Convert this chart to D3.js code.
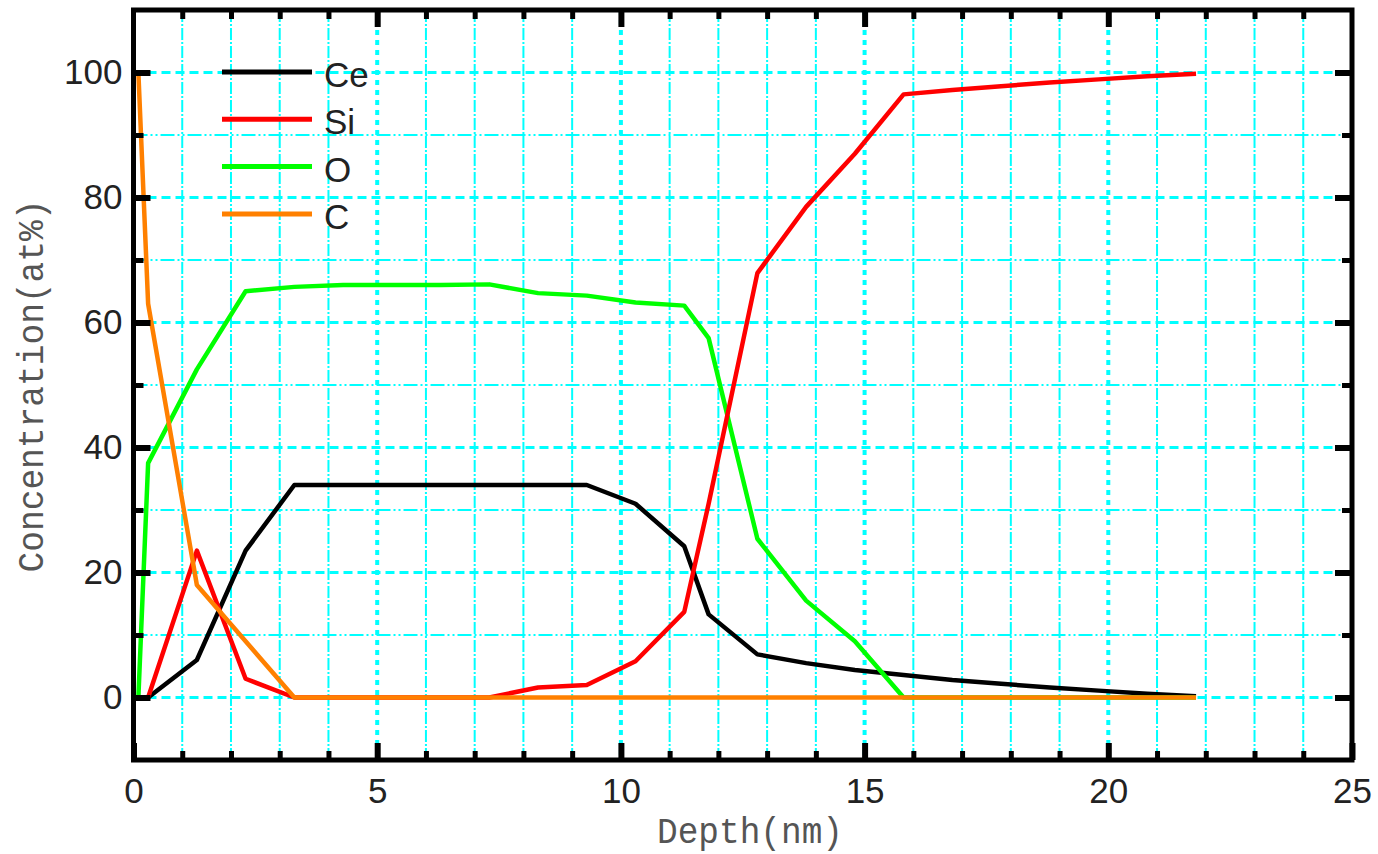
<!DOCTYPE html>
<html>
<head>
<meta charset="utf-8">
<script src="https://cdn.jsdelivr.net/npm/d3@7"></script>
<style>
  html, body { margin: 0; padding: 0; background: #ffffff; }
  svg { display: block; }
</style>
</head>
<body>
<svg id="chart" width="1378" height="854"></svg>
<script>
// Depth profile sample points (nm)
const depth = [0.1, 0.3, 1.3, 2.3, 3.3, 4.3, 5.3, 6.3, 7.3, 8.3, 9.3, 10.3, 11.3, 11.8, 12.8, 13.8, 14.8, 15.8, 16.8, 17.8, 18.8, 19.8, 20.8, 21.8];

// Concentrations (at%) per element at each depth
const ceValues = [0, 0, 6, 23.5, 34, 34, 34, 34, 34, 34, 34, 31, 24.2, 13.3, 6.9, 5.5, 4.4, 3.6, 2.8, 2.2, 1.6, 1.1, 0.6, 0.2];
const siValues = [0, 0, 23.5, 3, 0, 0, 0, 0, 0, 1.6, 2, 5.8, 13.7, 31, 67.9, 78.5, 87, 96.5, 97.2, 97.8, 98.4, 98.9, 99.4, 99.8];
const oValues  = [0, 37.5, 52.5, 65, 65.7, 66, 66, 66, 66.1, 64.7, 64.3, 63.2, 62.7, 57.5, 25.4, 15.5, 9, 0, 0, 0, 0, 0, 0, 0];
const cValues  = [100, 63, 18, 9, 0, 0, 0, 0, 0, 0, 0, 0, 0, 0, 0, 0, 0, 0, 0, 0, 0, 0, 0, 0];

const seriesNames  = ["Ce", "Si", "O", "C"];
const seriesColors = ["#000000", "#ff0000", "#00ff00", "#ff8000"];

// Axis tick values
const xMajorTicks = [0, 5, 10, 15, 20, 25];
const yMajorTicks = [0, 20, 40, 60, 80, 100];

const xTitle = "Depth(nm)";
const yTitle = "Concentration(at%)";

const svg = d3.select("#chart");
const L = 133.5, R = 1352, T = 10, B = 760;

const x = d3.scaleLinear().domain([0, 25]).range([L, R]);
const y = d3.scaleLinear().domain([-10, 110]).range([B, T]);

const gridColor = "#00ffff";
const xMinor = d3.range(1, 25).filter(v => v % 5 !== 0);
const xMajorInner = [5, 10, 15, 20];
const yMinor = [10, 30, 50, 70, 90];

// Grid
const grid = svg.append("g");
grid.selectAll(".vminor").data(xMinor).join("line")
  .attr("x1", d => x(d)).attr("x2", d => x(d)).attr("y1", T).attr("y2", B)
  .attr("stroke", gridColor).attr("stroke-width", 2).attr("stroke-dasharray", "12,2,2,2");
grid.selectAll(".vmajor").data(xMajorInner).join("line")
  .attr("x1", d => x(d)).attr("x2", d => x(d)).attr("y1", T).attr("y2", B)
  .attr("stroke", gridColor).attr("stroke-width", 4).attr("stroke-dasharray", "5,5");
grid.selectAll(".hminor").data(yMinor).join("line")
  .attr("x1", L).attr("x2", R).attr("y1", d => y(d)).attr("y2", d => y(d))
  .attr("stroke", gridColor).attr("stroke-width", 2).attr("stroke-dasharray", "14,3,2,3,2,3");
grid.selectAll(".hmajor").data(yMajorTicks).join("line")
  .attr("x1", L).attr("x2", R).attr("y1", d => y(d)).attr("y2", d => y(d))
  .attr("stroke", gridColor).attr("stroke-width", 3).attr("stroke-dasharray", "9,5");

// Series lines
const series = [ceValues, siValues, oValues, cValues].map((vals, i) => ({
  name: seriesNames[i], color: seriesColors[i],
  points: depth.map((d, j) => [d, vals[j]])
}));
const line = d3.line().x(d => x(d[0])).y(d => y(d[1]));
const drawOrder = [0, 2, 1, 3];
svg.append("g").selectAll("path").data(drawOrder.map(i => series[i])).join("path")
  .attr("d", d => line(d.points))
  .attr("fill", "none")
  .attr("stroke", d => d.color)
  .attr("stroke-width", 4.5)
  .attr("stroke-linejoin", "round");

// Axes with inward ticks
function styleAxis(g, width) {
  g.select(".domain").remove();
  g.selectAll(".tick line").attr("stroke", "#000").attr("stroke-width", width);
  g.selectAll(".tick text")
    .attr("fill", "#222")
    .style("font-family", "'Liberation Sans', Arial, sans-serif")
    .style("font-size", "35px");
}
const xMinorTickVals = d3.range(1, 25).filter(v => v % 5 !== 0);
const yMinorTickVals = [10, 30, 50, 70, 90];

svg.append("g").attr("transform", `translate(0,${B})`)
  .call(d3.axisBottom(x).tickValues(xMajorTicks).tickSize(-17).tickPadding(18).tickFormat(d3.format("d")))
  .call(g => styleAxis(g, 6));
svg.append("g").attr("transform", `translate(0,${B})`)
  .call(d3.axisBottom(x).tickValues(xMinorTickVals).tickSize(-9).tickFormat(""))
  .call(g => styleAxis(g, 5));
svg.append("g").attr("transform", `translate(0,${T})`)
  .call(d3.axisTop(x).tickValues([5, 10, 15, 20]).tickSize(-17).tickFormat(""))
  .call(g => styleAxis(g, 6));
svg.append("g").attr("transform", `translate(0,${T})`)
  .call(d3.axisTop(x).tickValues(xMinorTickVals).tickSize(-9).tickFormat(""))
  .call(g => styleAxis(g, 5));

svg.append("g").attr("transform", `translate(${L},0)`)
  .call(d3.axisLeft(y).tickValues(yMajorTicks).tickSize(-17).tickPadding(11).tickFormat(d3.format("d")))
  .call(g => styleAxis(g, 6));
svg.append("g").attr("transform", `translate(${L},0)`)
  .call(d3.axisLeft(y).tickValues(yMinorTickVals).tickSize(-10).tickFormat(""))
  .call(g => styleAxis(g, 5));
svg.append("g").attr("transform", `translate(${R},0)`)
  .call(d3.axisRight(y).tickValues(yMajorTicks).tickSize(-17).tickFormat(""))
  .call(g => styleAxis(g, 6));
svg.append("g").attr("transform", `translate(${R},0)`)
  .call(d3.axisRight(y).tickValues(yMinorTickVals).tickSize(-10).tickFormat(""))
  .call(g => styleAxis(g, 5));

// Frame
svg.append("rect")
  .attr("x", L).attr("y", T).attr("width", R - L).attr("height", B - T)
  .attr("fill", "none").attr("stroke", "#000").attr("stroke-width", 5);

// Legend
const legend = svg.append("g");
const legendRows = legend.selectAll("g").data(series).join("g")
  .attr("transform", (d, i) => `translate(0,${72 + i * 47.3})`);
legendRows.append("line")
  .attr("x1", 222).attr("x2", 312).attr("y1", 0).attr("y2", 0)
  .attr("stroke", d => d.color).attr("stroke-width", 5);
legendRows.append("text")
  .attr("x", 324).attr("y", 15)
  .attr("fill", "#222")
  .style("font-family", "'Liberation Sans', Arial, sans-serif")
  .style("font-size", "35px")
  .text(d => d.name);

// Axis titles (narrow monospace, stretched vertically)
svg.append("text")
  .attr("transform", "translate(750,843) scale(1,1.12)")
  .attr("text-anchor", "middle")
  .attr("textLength", 186).attr("lengthAdjust", "spacingAndGlyphs")
  .attr("fill", "#555")
  .style("font-family", "'Liberation Mono', 'DejaVu Sans Mono', monospace")
  .style("font-size", "33px")
  .text(xTitle);
svg.append("text")
  .attr("transform", "translate(43,386) rotate(-90) scale(1,1.12)")
  .attr("text-anchor", "middle")
  .attr("textLength", 373).attr("lengthAdjust", "spacingAndGlyphs")
  .attr("fill", "#555")
  .style("font-family", "'Liberation Mono', 'DejaVu Sans Mono', monospace")
  .style("font-size", "33px")
  .text(yTitle);
</script>
</body>
</html>
